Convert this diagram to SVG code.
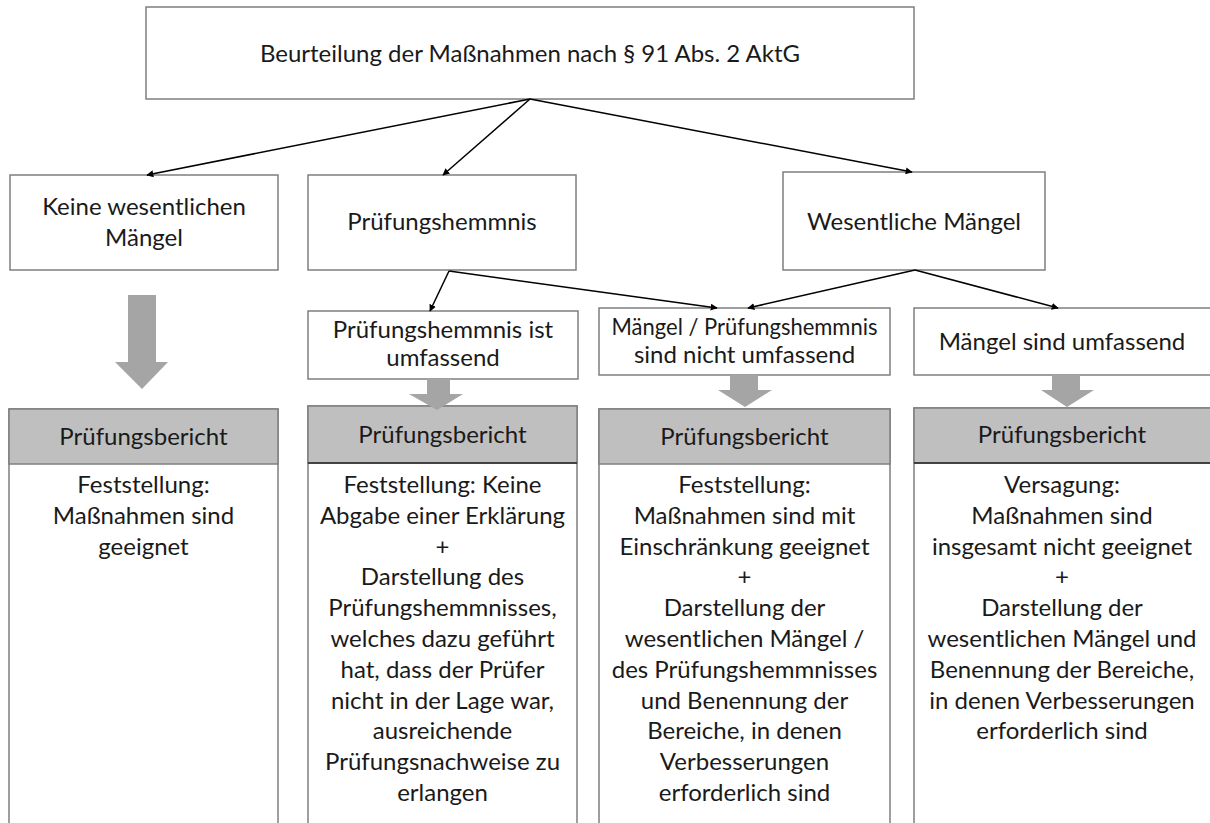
<svg xmlns="http://www.w3.org/2000/svg" width="1210" height="823" viewBox="0 0 1210 823">
<style>
.box{fill:#fff;stroke:#7f7f7f;stroke-width:1.5}
.hdr{fill:#bfbfbf;stroke:#7f7f7f;stroke-width:1.5}
.sepd{stroke:#262626;stroke-width:1.5}
.t{font-family:Lato,"Open Sans","Liberation Sans",sans-serif;font-size:24px;fill:#1a1a1a;text-anchor:middle}
.con{stroke:#000;stroke-width:1.5;fill:none;marker-end:url(#ah)}
.garrow{fill:#a5a5a5}
</style>
<defs>
<marker id="ah" viewBox="0 0 10 10" refX="9" refY="5" markerWidth="7" markerHeight="7" markerUnits="userSpaceOnUse" orient="auto">
<path d="M0,0 L10,5 L0,10 z" fill="#000"/>
</marker>
</defs>
<rect width="1210" height="823" fill="#fff"/>

<g id="top">
<rect class="box" x="146" y="7" width="768" height="92"/>
<text class="t" x="530" y="62">Beurteilung der Maßnahmen nach § 91 Abs. 2 AktG</text>
</g>

<g id="keine">
<rect class="box" x="10" y="175" width="268" height="95"/>
<text class="t" x="144" y="215">Keine wesentlichen</text>
<text class="t" x="144" y="246">Mängel</text>
</g>

<g id="hemmnis">
<rect class="box" x="308" y="175" width="268" height="95"/>
<text class="t" x="442" y="230">Prüfungshemmnis</text>
</g>

<g id="wesentlich">
<rect class="box" x="783" y="172" width="262" height="98"/>
<text class="t" x="914" y="230">Wesentliche Mängel</text>
</g>

<g id="hemmnis-umfassend">
<rect class="box" x="308" y="311" width="270" height="68"/>
<text class="t" x="443" y="338">Prüfungshemmnis ist</text>
<text class="t" x="443" y="366">umfassend</text>
</g>

<g id="nicht-umfassend">
<rect class="box" x="599" y="308" width="291" height="67"/>
<text class="t" x="744.5" y="335" textLength="266" lengthAdjust="spacingAndGlyphs">Mängel / Prüfungshemmnis</text>
<text class="t" x="744.5" y="363">sind nicht umfassend</text>
</g>

<g id="maengel-umfassend">
<rect class="box" x="914" y="308" width="300" height="67"/>
<text class="t" x="1062" y="350">Mängel sind umfassend</text>
</g>

<g id="bericht1">
<rect class="box" x="9" y="409" width="269" height="430"/>
<rect class="hdr" x="9" y="409" width="269" height="55"/>
<text class="t" x="143.5" y="445">Prüfungsbericht</text>
<text class="t" x="143.5" y="493">Feststellung:</text>
<text class="t" x="143.5" y="523.8">Maßnahmen sind</text>
<text class="t" x="143.5" y="554.6">geeignet</text>
</g>

<g id="bericht2">
<rect class="box" x="308" y="406" width="269" height="430"/>
<rect class="hdr" x="308" y="406" width="269" height="57"/>
<line class="sepd" x1="308" y1="463" x2="577" y2="463"/>
<text class="t" x="442.5" y="443">Prüfungsbericht</text>
<text class="t" x="442.5" y="493">Feststellung: Keine</text>
<text class="t" x="442.5" y="523.8">Abgabe einer Erklärung</text>
<text class="t" x="442.5" y="554.6">+</text>
<text class="t" x="442.5" y="585.4">Darstellung des</text>
<text class="t" x="442.5" y="616.2">Prüfungshemmnisses,</text>
<text class="t" x="442.5" y="647">welches dazu geführt</text>
<text class="t" x="442.5" y="677.8">hat, dass der Prüfer</text>
<text class="t" x="442.5" y="708.6">nicht in der Lage war,</text>
<text class="t" x="442.5" y="739.4">ausreichende</text>
<text class="t" x="442.5" y="770.2">Prüfungsnachweise zu</text>
<text class="t" x="442.5" y="801">erlangen</text>
</g>

<g id="bericht3">
<rect class="box" x="599" y="409" width="291" height="430"/>
<rect class="hdr" x="599" y="409" width="291" height="55"/>
<text class="t" x="744.5" y="445">Prüfungsbericht</text>
<text class="t" x="744.5" y="493">Feststellung:</text>
<text class="t" x="744.5" y="523.8">Maßnahmen sind mit</text>
<text class="t" x="744.5" y="554.6">Einschränkung geeignet</text>
<text class="t" x="744.5" y="585.4">+</text>
<text class="t" x="744.5" y="616.2">Darstellung der</text>
<text class="t" x="744.5" y="647">wesentlichen Mängel /</text>
<text class="t" x="744.5" y="677.8">des Prüfungshemmnisses</text>
<text class="t" x="744.5" y="708.6">und Benennung der</text>
<text class="t" x="744.5" y="739.4">Bereiche, in denen</text>
<text class="t" x="744.5" y="770.2">Verbesserungen</text>
<text class="t" x="744.5" y="801">erforderlich sind</text>
</g>

<g id="bericht4">
<rect class="box" x="914" y="408" width="300" height="430"/>
<rect class="hdr" x="914" y="408" width="300" height="55"/>
<line class="sepd" x1="914" y1="463" x2="1210" y2="463"/>
<text class="t" x="1062" y="443">Prüfungsbericht</text>
<text class="t" x="1062" y="493">Versagung:</text>
<text class="t" x="1062" y="523.8">Maßnahmen sind</text>
<text class="t" x="1062" y="554.6">insgesamt nicht geeignet</text>
<text class="t" x="1062" y="585.4">+</text>
<text class="t" x="1062" y="616.2">Darstellung der</text>
<text class="t" x="1062" y="647">wesentlichen Mängel und</text>
<text class="t" x="1062" y="677.8">Benennung der Bereiche,</text>
<text class="t" x="1062" y="708.6">in denen Verbesserungen</text>
<text class="t" x="1062" y="739.4">erforderlich sind</text>
</g>

<g id="connectors">
<line class="con" x1="530" y1="99" x2="147" y2="175"/>
<line class="con" x1="530" y1="99" x2="443" y2="175"/>
<line class="con" x1="530" y1="99" x2="912" y2="172"/>
<line class="con" x1="449" y1="271" x2="430" y2="311"/>
<line class="con" x1="449" y1="271" x2="717" y2="308"/>
<line class="con" x1="915" y1="270" x2="748" y2="308"/>
<line class="con" x1="915" y1="270" x2="1058" y2="308"/>
<path class="garrow" d="M128,295 H156 V362 H168 L142,389 L115,362 H128 Z"/>
<path class="garrow" d="M427,379 H450 V394 H463 L437,410 L409,394 H427 Z"/>
<path class="garrow" d="M730,375 H758 V390 H772 L745,407 L718,390 H730 Z"/>
<path class="garrow" d="M1052,375 H1080 V390 H1094 L1067,407 L1041,390 H1052 Z"/>
</g>
</svg>
